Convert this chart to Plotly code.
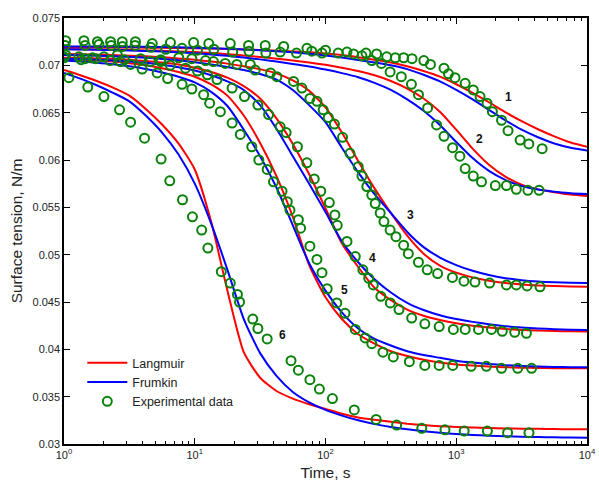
import math
import plotly.graph_objects as go

# ---------------- model curves on a common time grid ----------------
t_model = [1, 1.334, 1.778, 2.371, 3.162, 4.217, 5.623, 7.499, 10, 13.34, 17.78, 23.71, 31.62,
           42.17, 56.23, 74.99, 100, 133.4, 177.8, 237.1, 316.2, 421.7, 562.3, 749.9, 1000,
           1334, 1778, 2371, 3162, 4217, 5623, 7499, 10000]

# Langmuir model (red)
langmuir = {
    1: [.07190, .07190, .07190, .07189, .07188, .07187, .07185, .07183, .07180, .07177, .07173,
        .07168, .07162, .07155, .07147, .07138, .07125, .07108, .07085, .07060, .07030, .06990,
        .06940, .06880, .06800, .06710, .06610, .06505, .06410, .06325, .06250, .06185, .06140],
    2: [.07170, .07169, .07167, .07165, .07162, .07158, .07153, .07147, .07140, .07130, .07118,
        .07104, .07088, .07070, .07052, .07030, .07005, .06975, .06940, .06895, .06835, .06755,
        .06650, .06510, .06320, .06120, .05950, .05825, .05740, .05690, .05660, .05635, .05620],
    3: [.07120, .07117, .07113, .07108, .07102, .07095, .07085, .07073, .07058, .07040, .07018,
        .06990, .06960, .06915, .06840, .06730, .06555, .06290, .05990, .05700, .05440, .05200,
        .05010, .04885, .04810, .04760, .04725, .04700, .04685, .04675, .04668, .04663, .04660],
    4: [.07080, .07077, .07073, .07067, .07058, .07046, .07030, .07008, .06975, .06930, .06870,
        .06780, .06650, .06440, .06170, .05850, .05490, .05120, .04870, .04650, .04520, .04420,
        .04355, .04310, .04275, .04250, .04230, .04215, .04205, .04198, .04193, .04190, .04188],
    5: [.07070, .07062, .07052, .07040, .07023, .07000, .06970, .06930, .06880, .06800, .06680,
        .06470, .06180, .05830, .05400, .04890, .04550, .04320, .04160, .04060, .03980, .03930,
        .03890, .03860, .03840, .03828, .03818, .03811, .03806, .03803, .03801, .03800, .03800],
    6: [.06950, .06895, .06835, .06765, .06680, .06540, .06375, .06175, .05900, .05350, .04620,
        .03970, .03700, .03560, .03480, .03420, .03370, .03320, .03280, .03255, .03235, .03215,
        .03200, .03188, .03180, .03174, .03169, .03165, .03162, .03160, .03158, .03156, .03155],
}

# Frumkin model (blue)
frumkin = {
    1: [.07200, .07200, .07199, .07198, .07197, .07195, .07193, .07190, .07186, .07181, .07175,
        .07168, .07160, .07150, .07138, .07123, .07105, .07082, .07055, .07030, .07000, .06960,
        .06900, .06830, .06740, .06640, .06530, .06420, .06320, .06240, .06175, .06130, .06100],
    2: [.07170, .07168, .07165, .07161, .07157, .07152, .07145, .07137, .07127, .07115, .07100,
        .07083, .07063, .07040, .07015, .06988, .06955, .06918, .06875, .06815, .06740, .06640,
        .06520, .06370, .06190, .06020, .05885, .05790, .05725, .05688, .05665, .05650, .05640],
    3: [.07110, .07107, .07102, .07096, .07089, .07080, .07068, .07053, .07033, .07010, .06983,
        .06950, .06908, .06850, .06740, .06580, .06400, .06130, .05870, .05640, .05440, .05240,
        .05080, .04970, .04890, .04830, .04785, .04752, .04730, .04716, .04708, .04703, .04700],
    4: [.07070, .07066, .07060, .07052, .07041, .07026, .07006, .06980, .06945, .06895, .06830,
        .06740, .06580, .06330, .06040, .05750, .05450, .05140, .04920, .04740, .04600, .04490,
        .04415, .04360, .04320, .04290, .04265, .04245, .04230, .04220, .04213, .04208, .04205],
    5: [.07050, .07040, .07028, .07012, .06990, .06962, .06925, .06880, .06820, .06720, .06570,
        .06320, .06040, .05710, .05310, .04910, .04620, .04390, .04220, .04110, .04040, .03980,
        .03940, .03910, .03880, .03860, .03845, .03833, .03824, .03818, .03814, .03811, .03810],
    6: [.06920, .06860, .06790, .06710, .06620, .06470, .06290, .06060, .05750, .05330, .04840,
        .04320, .03960, .03720, .03550, .03440, .03360, .03300, .03250, .03210, .03180, .03155,
        .03135, .03118, .03105, .03095, .03088, .03082, .03077, .03073, .03070, .03068, .03067],
}

# ---------------- experimental data (green circles) ----------------
exp_t = {
    1: [1.03, 1.42, 1.80, 2.27, 2.79, 3.52, 4.73, 6.52, 9.8, 12.8, 18.7, 25.8, 34.6, 47.9, 72.1,
        100, 146, 204, 246, 294, 342, 396, 459, 565, 635, 806, 872, 978, 1170, 1350, 1520, 1720,
        1890, 2220, 2490, 3080, 3590, 4540],
    2: [1.02, 1.45, 1.85, 2.3, 2.8, 3.5, 4.6, 6.0, 8.0, 10.5, 14, 19.5, 26, 35, 45, 60, 78.5, 94,
        125, 164, 190, 226, 268, 312, 380, 454, 514, 604, 707, 806, 938, 1066, 1170, 1350, 1560,
        1990, 2420, 2880, 3530, 4300],
    3: [1.03, 1.3, 1.65, 2.56, 3.85, 5.5, 7.55, 9.5, 12.1, 13.9, 17.1, 21, 26.6, 29, 38, 42.5, 57,
        66, 76, 86, 96, 105, 117, 135, 154, 178, 190, 207, 226, 240, 262, 280, 312, 346, 396, 430,
        514, 600, 720, 935, 1145, 1390, 1800, 2420, 2880, 3480, 4370],
    4: [1.0, 1.45, 2.02, 2.9, 4.58, 5.5, 6.5, 8.5, 10.5, 12.5, 14.8, 19.3, 24, 30.4, 36.7, 45, 50,
        61, 72, 82, 92, 107, 118, 123, 146, 169, 193, 214, 232, 265, 313, 365, 456, 575, 740, 950,
        1170, 1480, 1860, 2250, 2800, 3440],
    5: [1.0, 1.35, 1.75, 2.25, 2.7, 3.23, 3.96, 5.16, 6.2, 8.0, 9.5, 11.7, 13, 15.7, 19.3, 22.3,
        27.3, 30.9, 35.8, 40, 46.5, 51, 53.5, 62, 64.5, 76, 86, 94, 103, 122, 141, 169, 201, 226,
        275, 330, 438, 575, 740, 940, 1300, 1700, 2220, 2950, 3770],
    6: [1.09, 1.52, 2.02, 2.66, 3.23, 4.13, 5.53, 6.44, 8.06, 9.6, 11.3, 12.6, 15.96, 18.7, 21.2,
        22.0, 27.8, 30.4, 35.8, 54.5, 62, 76, 89.8, 113, 166, 244, 350, 545, 820, 1150, 1730,
        2470, 3600],
}
exp_y = {
    1: [0.0726, 0.0726, 0.0725, 0.0725, 0.0725, 0.0725, 0.0723, 0.0724, 0.0724, 0.0723, 0.0723,
        0.0721, 0.0721, 0.0720, 0.0718, 0.0716, 0.0714, 0.0713, 0.0712, 0.0709, 0.0708, 0.0708,
        0.0707, 0.0705, 0.0701, 0.0697, 0.0691, 0.0687, 0.0681, 0.0674, 0.0667, 0.0660, 0.0651,
        0.0642, 0.0631, 0.0621, 0.0617, 0.0612],
    2: [0.0721, 0.0721, 0.0722, 0.0721, 0.0720, 0.0721, 0.0719, 0.0717, 0.0718, 0.0716, 0.0717,
        0.0714, 0.0715, 0.0713, 0.0714, 0.0713, 0.0715, 0.0713, 0.0713, 0.0712, 0.0710, 0.0705,
        0.0702, 0.0693, 0.0688, 0.0680, 0.0669, 0.0655, 0.0637, 0.0625, 0.0613, 0.0604, 0.0591,
        0.0583, 0.0577, 0.0573, 0.0573, 0.0569, 0.0568, 0.0568],
    3: [0.0711, 0.0709, 0.0708, 0.0711, 0.0707, 0.0706, 0.0708, 0.0707, 0.0705, 0.0704, 0.0702,
        0.0701, 0.0701, 0.0695, 0.0692, 0.0688, 0.0683, 0.0676, 0.0665, 0.0662, 0.0653, 0.0645,
        0.0638, 0.0624, 0.0607, 0.0593, 0.0583, 0.0572, 0.0563, 0.0554, 0.0544, 0.0535, 0.0526,
        0.0519, 0.0510, 0.0501, 0.0492, 0.0484, 0.0480, 0.0476, 0.0472, 0.0471, 0.0470, 0.0468,
        0.0468, 0.0467, 0.0466],
    4: [0.0709, 0.0707, 0.0709, 0.0706, 0.0704, 0.0704, 0.0700, 0.0697, 0.0694, 0.0690, 0.0685,
        0.0676, 0.0667, 0.0658, 0.0648, 0.0635, 0.0629, 0.0614, 0.0597, 0.0580, 0.0567, 0.0555,
        0.0542, 0.0531, 0.0514, 0.0498, 0.0484, 0.0475, 0.0468, 0.0456, 0.0449, 0.0442, 0.0433,
        0.0427, 0.0424, 0.0421, 0.0421, 0.0421, 0.0421, 0.0419, 0.0418, 0.0417],
    5: [0.0708, 0.0706, 0.0707, 0.0705, 0.0704, 0.0701, 0.0696, 0.0692, 0.0686, 0.0680, 0.0675,
        0.0669, 0.0660, 0.0651, 0.0639, 0.0627, 0.0614, 0.0600, 0.0590, 0.0577, 0.0567, 0.0556,
        0.0547, 0.0537, 0.0528, 0.0509, 0.0495, 0.0481, 0.0464, 0.0449, 0.0438, 0.0421, 0.0412,
        0.0406, 0.0397, 0.0392, 0.0387, 0.0383, 0.0383, 0.0383, 0.0382, 0.0382, 0.0380, 0.0380,
        0.0380],
    6: [0.0687, 0.0677, 0.0667, 0.0653, 0.0640, 0.0623, 0.0601, 0.0578, 0.0558, 0.0540, 0.0526,
        0.0507, 0.0482, 0.0470, 0.0458, 0.0450, 0.0432, 0.0422, 0.0411, 0.0388, 0.0378, 0.0368,
        0.0358, 0.0348, 0.0336, 0.0326, 0.0320, 0.03166, 0.0315, 0.03137, 0.03137, 0.0312, 0.0312],
}

# curve numbers written next to each family: (text, time, tension)
curve_labels = [("1", 2525, 0.0667), ("2", 1517, 0.0622), ("3", 443, 0.0542),
                ("4", 227, 0.0497), ("5", 139, 0.0463), ("6", 46.7, 0.0415)]

x_tick_vals = [1, 10, 100, 1000, 10000]
x_tick_text = ["10<sup>0</sup>", "10<sup>1</sup>", "10<sup>2</sup>", "10<sup>3</sup>", "10<sup>4</sup>"]
x_minor_vals = [2, 3, 4, 5, 6, 7, 8, 9, 20, 30, 40, 50, 60, 70, 80, 90,
                200, 300, 400, 500, 600, 700, 800, 900, 2000, 3000, 4000, 5000, 6000, 7000, 8000, 9000]
y_tick_vals = [0.03, 0.035, 0.04, 0.045, 0.05, 0.055, 0.06, 0.065, 0.07, 0.075]
y_tick_text = ["0.03", "0.035", "0.04", "0.045", "0.05", "0.055", "0.06", "0.065", "0.07", "0.075"]

RED = "#ff0000"
BLUE = "#0000ff"
GREEN = "#0a820a"
FONT = "Liberation Sans, Arial, sans-serif"

fig = go.Figure()

for k in range(1, 7):
    fig.add_trace(go.Scatter(
        x=t_model, y=langmuir[k], mode="lines", name="Langmuir",
        line=dict(color=RED, width=2, shape="spline", smoothing=0.6),
        legendgroup="L", showlegend=(k == 1), hoverinfo="skip"))
for k in range(1, 7):
    fig.add_trace(go.Scatter(
        x=t_model, y=frumkin[k], mode="lines", name="Frumkin",
        line=dict(color=BLUE, width=2, shape="spline", smoothing=0.6),
        legendgroup="F", showlegend=(k == 1), hoverinfo="skip"))
for k in range(1, 7):
    fig.add_trace(go.Scatter(
        x=exp_t[k], y=exp_y[k], mode="markers", name="Experimental data",
        marker=dict(symbol="circle-open", size=9, color=GREEN, line=dict(width=2, color=GREEN)),
        legendgroup="E", showlegend=(k == 1), hoverinfo="skip"))

for txt, tx, ty in curve_labels:
    fig.add_annotation(x=math.log10(tx), y=ty, xref="x", yref="y", text="<b>%s</b>" % txt,
                       showarrow=False, font=dict(family=FONT, size=12, color="#111111"))

fig.update_layout(
    width=599, height=481,
    margin=dict(l=64, r=12, t=18, b=37),
    paper_bgcolor="white", plot_bgcolor="white",
    font=dict(family=FONT, size=11, color="#222222"),
    legend=dict(x=0.035, y=0.225, xanchor="left", yanchor="top",
                bgcolor="rgba(0,0,0,0)", font=dict(size=12.5, family=FONT, color="#222222"),
                itemwidth=40, tracegroupgap=0),
    xaxis=dict(
        type="log", range=[0, 4], showgrid=False, zeroline=False, automargin=False,
        showline=True, linecolor="black", linewidth=1.5, mirror="ticks",
        ticks="inside", ticklen=6, tickwidth=1, tickcolor="black",
        tickvals=x_tick_vals, ticktext=x_tick_text,
        tickfont=dict(size=11, family=FONT),
        minor=dict(ticks="inside", ticklen=3, tickwidth=1, tickcolor="black",
                   tickvals=x_minor_vals, showgrid=False),
        title=dict(text="Time, s", font=dict(size=15.5, family=FONT), standoff=7),
    ),
    yaxis=dict(
        range=[0.03, 0.075], showgrid=False, zeroline=False, automargin=False,
        showline=True, linecolor="black", linewidth=1.5, mirror="ticks",
        ticks="inside", ticklen=6, tickwidth=1, tickcolor="black",
        tickvals=y_tick_vals, ticktext=y_tick_text,
        tickfont=dict(size=11, family=FONT),
        title=dict(text="Surface tension, N/m", font=dict(size=15.5, family=FONT), standoff=6),
    ),
)

fig.write_html("out.html")
